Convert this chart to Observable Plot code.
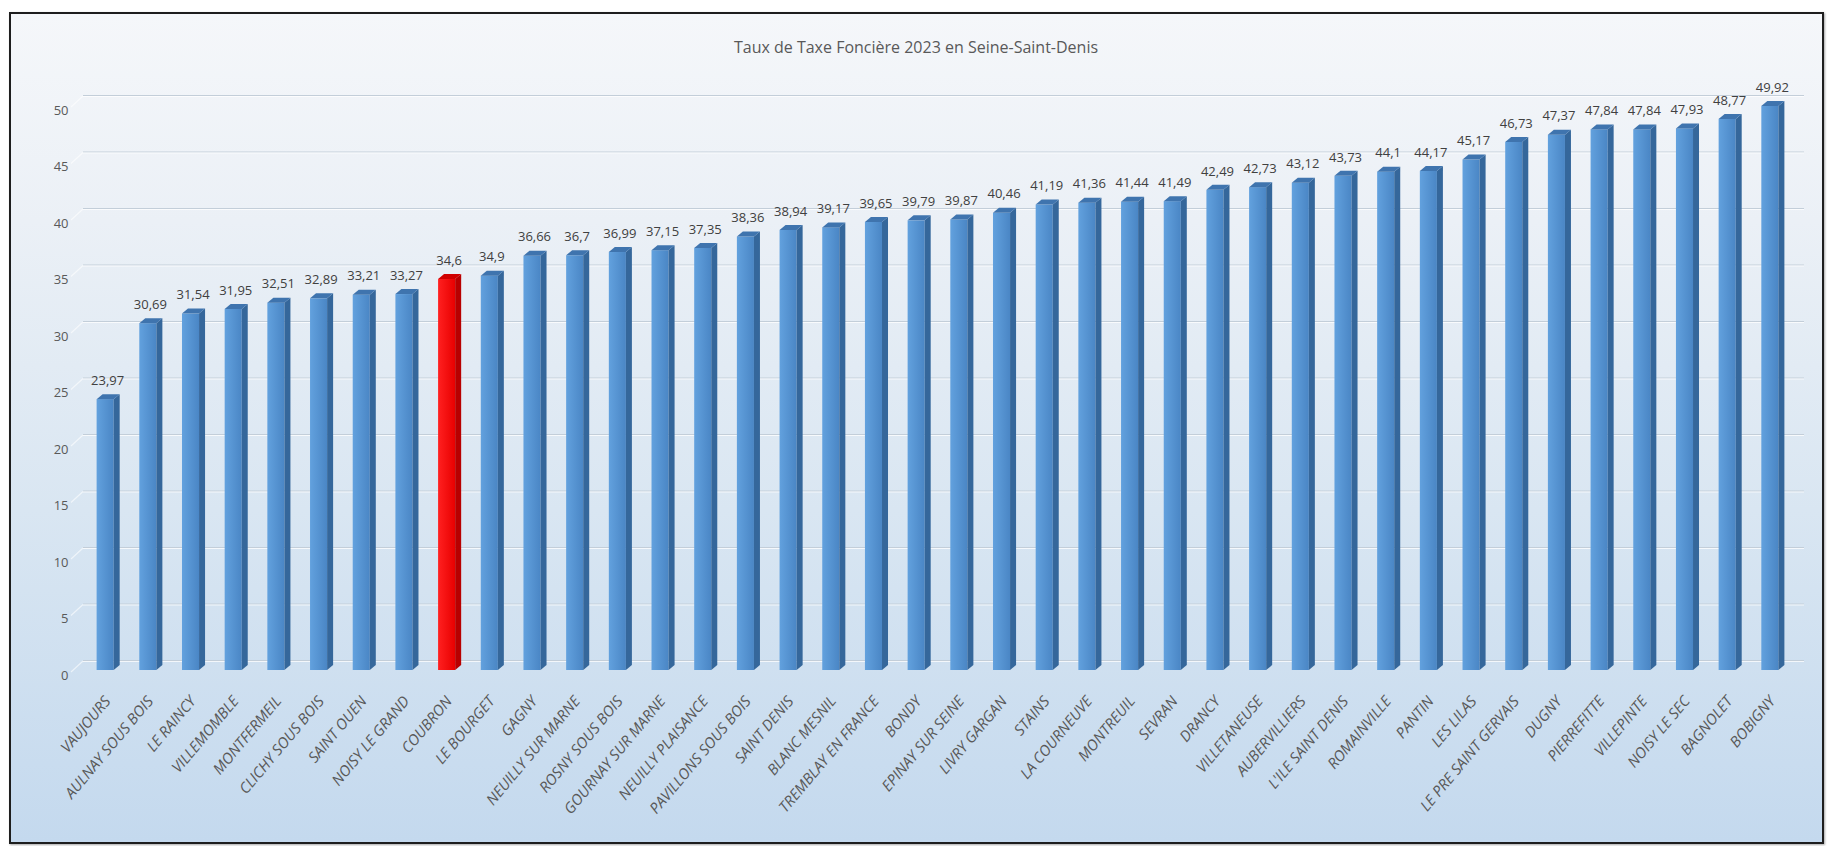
<!DOCTYPE html>
<html>
<head>
<meta charset="utf-8">
<script src="https://cdn.jsdelivr.net/npm/d3@7"></script>
<script src="https://cdn.jsdelivr.net/npm/@observablehq/plot@0.6"></script>
<style>
html, body { margin: 0; padding: 0; background: #ffffff; }
#frame {
  position: absolute; left: 9px; top: 12px; width: 1811px; height: 828px;
  border: 2px solid #1e1e1e;
  background: linear-gradient(to bottom, #f5f7fa 0%, #ebf0f6 25%, #d9e6f2 60%, #c4d9ee 100%);
  box-shadow: 1px 1px 2px rgba(0,0,0,0.35);
}
#frame svg { display: block; }
</style>
</head>
<body>
<div id="frame"></div>
<script>
const communes = [
  "VAUJOURS", "AULNAY SOUS BOIS", "LE RAINCY", "VILLEMOMBLE", "MONTFERMEIL",
  "CLICHY SOUS BOIS", "SAINT OUEN", "NOISY LE GRAND", "COUBRON", "LE BOURGET",
  "GAGNY", "NEUILLY SUR MARNE", "ROSNY SOUS BOIS", "GOURNAY SUR MARNE", "NEUILLY PLAISANCE",
  "PAVILLONS SOUS BOIS", "SAINT DENIS", "BLANC MESNIL", "TREMBLAY EN FRANCE", "BONDY",
  "EPINAY SUR SEINE", "LIVRY GARGAN", "STAINS", "LA COURNEUVE", "MONTREUIL",
  "SEVRAN", "DRANCY", "VILLETANEUSE", "AUBERVILLIERS", "L'ILE SAINT DENIS",
  "ROMAINVILLE", "PANTIN", "LES LILAS", "LE PRE SAINT GERVAIS", "DUGNY",
  "PIERREFITTE", "VILLEPINTE", "NOISY LE SEC", "BAGNOLET", "BOBIGNY"
];
const taux = [
  23.97, 30.69, 31.54, 31.95, 32.51,
  32.89, 33.21, 33.27, 34.6, 34.9,
  36.66, 36.7, 36.99, 37.15, 37.35,
  38.36, 38.94, 39.17, 39.65, 39.79,
  39.87, 40.46, 41.19, 41.36, 41.44,
  41.49, 42.49, 42.73, 43.12, 43.73,
  44.1, 44.17, 45.17, 46.73, 47.37,
  47.84, 47.84, 47.93, 48.77, 49.92
];
const highlighted = "COUBRON";
const yTicks = [0, 5, 10, 15, 20, 25, 30, 35, 40, 45, 50];
const chartTitle = "Taux de Taxe Foncière 2023 en Seine-Saint-Denis";

const data = communes.map((c, i) => ({commune: c, taux: taux[i]}));
const fmt = v => String(v).replace(".", ",");
const BLUE = "#5592d0", RED = "#ff0000";

const plot = Plot.plot({
  width: 1811,
  height: 828,
  marginLeft: 60,
  marginRight: 18,
  marginTop: 91,
  marginBottom: 172,
  style: {background: "transparent", fontFamily: "'Open Sans', sans-serif", overflow: "visible"},
  x: {domain: communes, padding: 0.6, round: false, axis: null},
  y: {domain: [0, 50], axis: null},
  color: {type: "identity"},
  marks: [
    Plot.ruleY(yTicks, {stroke: "#c3ced9", strokeWidth: 1, dy: -10, insetLeft: 12}),
    Plot.ruleY(yTicks, {stroke: "#ffffff", strokeOpacity: 0.75, strokeWidth: 1.2, dy: -9, insetLeft: 12}),
    Plot.text(yTicks, {y: d => d, text: d => String(d), frameAnchor: "left", textAnchor: "end",
      dx: -3, dy: 5, fontSize: 13, fill: "#595959"}),
    Plot.barY(data, {x: "commune", y: "taux", fill: d => d.commune === highlighted ? RED : BLUE}),
    Plot.text(data, {x: "commune", y: "taux", text: d => fmt(d.taux), dy: -19, dx: 2,
      fontSize: 13, fill: "#404040"}),
    Plot.text(data, {x: "commune", y: 0, text: "commune", rotate: -50, textAnchor: "end",
      lineAnchor: "middle", dx: 2, dy: 28, fontSize: 15, fontStyle: "italic", fill: "#595959"}),
    Plot.text([chartTitle], {text: d => d, frameAnchor: "top", dx: -22, dy: -64,
      fontSize: 16, fill: "#595959"})
  ]
});

document.getElementById("frame").appendChild(plot);

// 3D look: add side and top faces derived from each bar rendered by Plot
const svg = d3.select(plot);
const defs = svg.insert("defs", ":first-child");
function grad(id, c1, c2) {
  const g = defs.append("linearGradient").attr("id", id).attr("x1", 0).attr("x2", 1).attr("y1", 0).attr("y2", 0);
  g.append("stop").attr("offset", "0%").attr("stop-color", c1);
  g.append("stop").attr("offset", "100%").attr("stop-color", c2);
}
grad("gBlue", "#62a1de", "#4a86c5");
grad("gRed", "#ff2020", "#e80000");

const DX = 6, DY = 5;
svg.selectAll('g[aria-label="bar"] rect').each(function() {
  const r = d3.select(this);
  const x = +r.attr("x"), y = +r.attr("y"), w = +r.attr("width"), h = +r.attr("height");
  const isRed = (r.attr("fill") || "").toLowerCase() === RED;
  const g = d3.select(this.parentNode);
  g.append("polygon")
    .attr("points", [[x + w, y], [x + w + DX, y - DY], [x + w + DX, y + h - DY], [x + w, y + h]].join(" "))
    .attr("fill", isRed ? "#b80000" : "#35679b");
  g.append("polygon")
    .attr("points", [[x, y], [x + DX, y - DY], [x + w + DX, y - DY], [x + w, y]].join(" "))
    .attr("fill", isRed ? "#d00000" : "#3f74ae");
  r.attr("fill", isRed ? "url(#gRed)" : "url(#gBlue)");
});

// left side wall perspective lines, from the library's y scale
const ys = plot.scale("y");
const wall = svg.insert("g", 'g[aria-label="bar"]');
yTicks.forEach(t => {
  const yb = ys.apply(t);
  wall.append("line")
    .attr("x1", 60).attr("y1", yb + 2)
    .attr("x2", 72).attr("y2", yb - 9)
    .attr("stroke", "#ffffff").attr("stroke-opacity", 0.6).attr("stroke-width", 1.2);
});
</script>
</body>
</html>
